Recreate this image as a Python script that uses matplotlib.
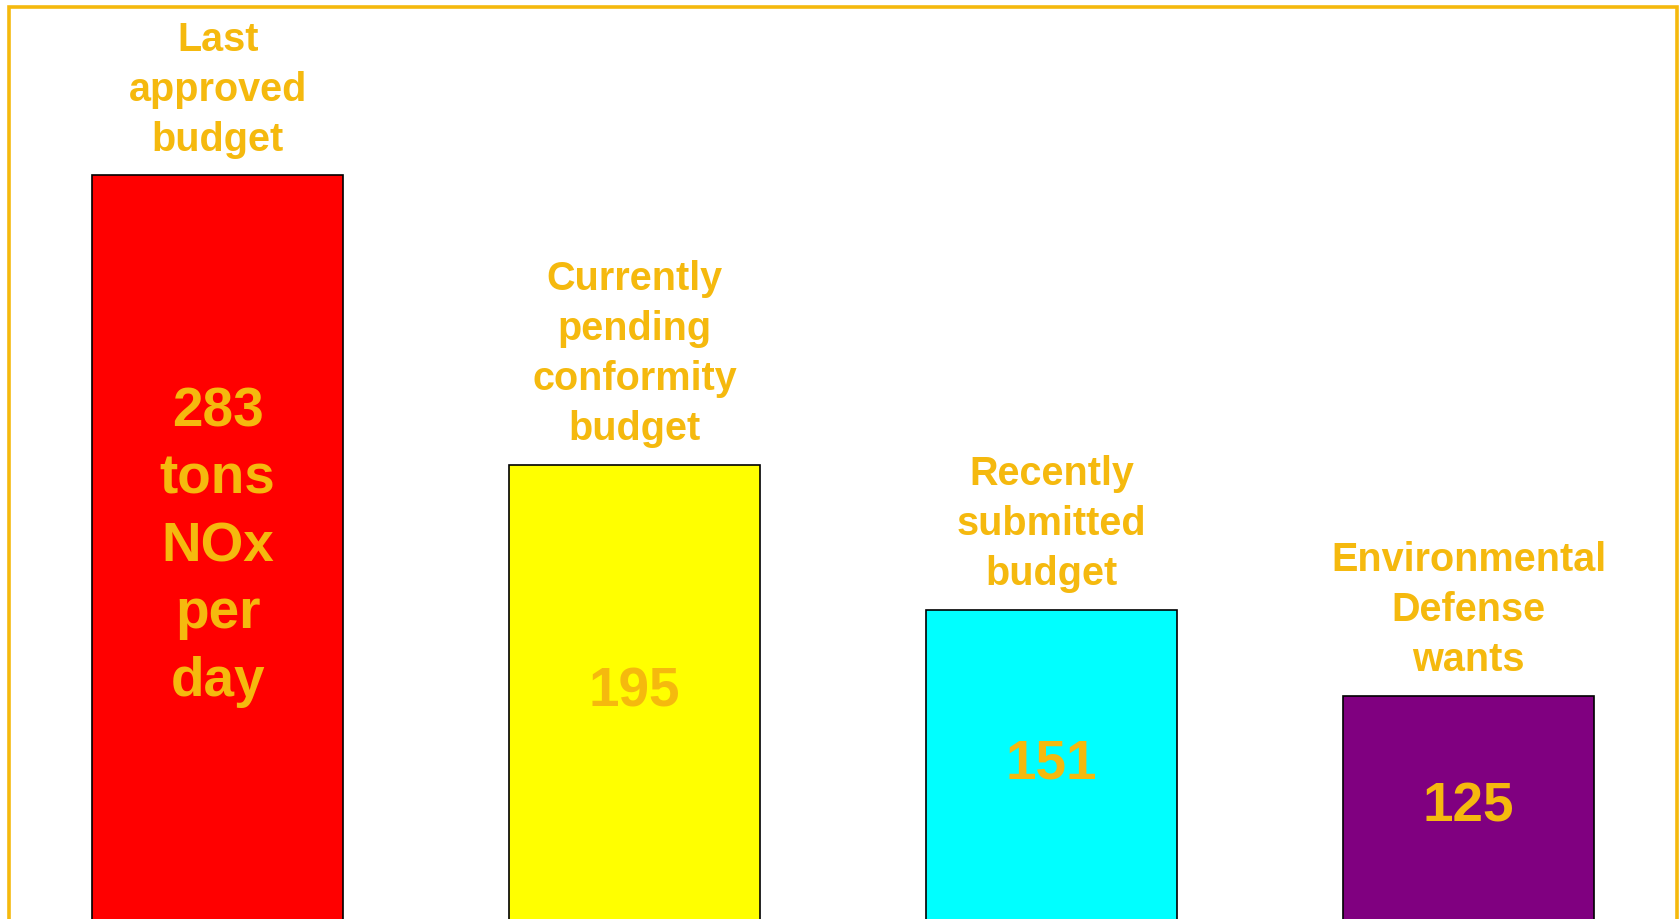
import matplotlib.pyplot as plt
from matplotlib.patches import Rectangle

labels = ['Last\napproved\nbudget',
          'Currently\npending\nconformity\nbudget',
          'Recently\nsubmitted\nbudget',
          'Environmental\nDefense\nwants']
values = [283, 195, 151, 125]
value_text = ['283\ntons\nNOx\nper\nday', '195', '151', '125']
colors = ['#FF0000', '#FFFF00', '#00FFFF', '#800080']

GOLD = '#F5B90E'
plt.rcParams['font.family'] = ['Liberation Sans', 'DejaVu Sans']

fig = plt.figure(figsize=(16.81, 9.19), dpi=100)
ax = fig.add_axes([0, 0, 1, 1])
ax.axis('off')

x = range(len(values))
bars = ax.bar(x, values, width=0.602, color=colors, edgecolor='black', linewidth=1.2)
ax.set_xlim(-0.522, 3.509)
ax.set_ylim(57.2, 336.2)
ybot = ax.get_ylim()[0]

for xi, v, lab, vt in zip(x, values, labels, value_text):
    ax.annotate(lab, (xi, v), xytext=(0, 12), textcoords='offset points',
                ha='center', va='bottom', fontsize=28.5, fontweight='bold',
                color=GOLD, linespacing=1.4)
    ax.text(xi, (v + ybot) / 2, vt, ha='center', va='center',
            fontsize=39.5, fontweight='bold', color=GOLD, linespacing=1.38)

# gold frame round the slide
fig.add_artist(Rectangle((9 / 1681, -0.02), 1668.5 / 1681, 1.02 - 6.7 / 919,
                         transform=fig.transFigure, fill=False,
                         edgecolor=GOLD, linewidth=2.6, clip_on=False))

fig.savefig('out.png', dpi=100)
